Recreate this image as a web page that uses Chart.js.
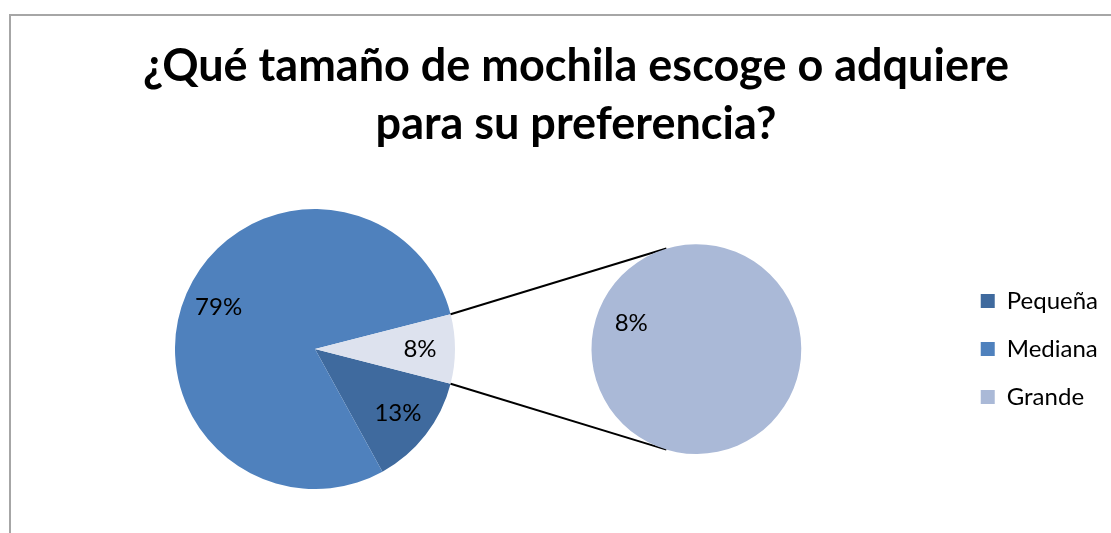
<!DOCTYPE html>
<html>
<head>
<meta charset="utf-8">
<script src="https://cdn.jsdelivr.net/npm/chart.js@4"></script>
<style>
    body { margin: 0; width: 1111px; height: 533px; overflow: hidden; background: #fff; position: relative; }
    #frame { position: absolute; left: 9px; top: 14px; width: 1200px; height: 600px; border: 2px solid #a6a6a6; box-sizing: border-box; }
    #mainPie { position: absolute; left: 175px; top: 209px; z-index: 1; }
    #detailPie { position: absolute; left: 9px; top: 14px; z-index: 2; }
</style>
</head>
<body>
<div id="frame"></div>
<canvas id="mainPie" width="280" height="280"></canvas>
<canvas id="detailPie" width="1134" height="519"></canvas>
<script>
const titleLines = ["¿Qué tamaño de mochila escoge o adquiere", "para su preferencia?"]
const categories = ["Pequeña", "Mediana", "Grande"]
const percentages = [13, 79, 8]
const detailCategories = ["Grande"]
const detailPercentages = [8]

const sliceColors = ["#3F6A9E", "#4F81BD", "#DDE2EE"]
const legendColors = ["#3F6A9E", "#4F81BD", "#AAB9D7"]
const detailColors = ["#AAB9D7"]

const FONT = "Lato, 'Open Sans', sans-serif"

// percentage text inside each slice
const sliceLabels = {
    id: "sliceLabels",
    afterDatasetsDraw(chart, args, opts) {
        const ctx = chart.ctx
        const meta = chart.getDatasetMeta(0)
        const values = chart.data.datasets[0].data
        ctx.save()
        ctx.font = "24px " + FONT
        ctx.fillStyle = "#000"
        ctx.textAlign = "center"
        ctx.textBaseline = "middle"
        meta.data.forEach((arc, i) => {
            const mid = (arc.startAngle + arc.endAngle) / 2
            const r = arc.outerRadius * opts.frac
            ctx.fillText(values[i] + "%", arc.x + Math.cos(mid) * r, arc.y + Math.sin(mid) * r)
        })
        ctx.restore()
    },
}

const grandeIndex = categories.indexOf("Grande")
const total = percentages.reduce((a, b) => a + b, 0)
// the split-off slice sits centred on 3 o'clock
const mainRotation = 90 + (percentages[grandeIndex] / total) * 180

const mainChart = new Chart(document.getElementById("mainPie"), {
    type: "pie",
    data: {
        labels: categories,
        datasets: [
            {
                data: percentages,
                backgroundColor: sliceColors,
                borderWidth: 0,
                hoverOffset: 0,
            },
        ],
    },
    options: {
        responsive: false,
        animation: false,
        events: [],
        rotation: mainRotation,
        layout: { padding: 0 },
        plugins: {
            legend: { display: false },
            title: { display: false },
            tooltip: { enabled: false },
            sliceLabels: { frac: 0.75 },
        },
    },
    plugins: [sliceLabels],
})

// lines from the split-off slice to the second pie
const connectors = {
    id: "connectors",
    beforeDatasetsDraw(chart) {
        const ctx = chart.ctx
        const src = mainChart.getDatasetMeta(0).data[grandeIndex]
        const dst = chart.getDatasetMeta(0).data[0]
        const a = mainChart.canvas.getBoundingClientRect()
        const b = chart.canvas.getBoundingClientRect()
        const ox = a.left - b.left
        const oy = a.top - b.top
        const spread = Math.PI / 2 + 0.29
        const ends = [
            [src.startAngle, -spread],
            [src.endAngle, spread],
        ]
        ctx.save()
        ctx.strokeStyle = "#000"
        ctx.lineWidth = 2
        for (const [from, to] of ends) {
            ctx.beginPath()
            ctx.moveTo(ox + src.x + Math.cos(from) * src.outerRadius, oy + src.y + Math.sin(from) * src.outerRadius)
            ctx.lineTo(dst.x + Math.cos(to) * dst.outerRadius, dst.y + Math.sin(to) * dst.outerRadius)
            ctx.stroke()
        }
        ctx.restore()
    },
}

const detailChart = new Chart(document.getElementById("detailPie"), {
    type: "pie",
    data: {
        labels: detailCategories,
        datasets: [
            {
                data: detailPercentages,
                backgroundColor: detailColors,
                borderWidth: 0,
                hoverOffset: 0,
            },
        ],
    },
    options: {
        responsive: false,
        animation: false,
        events: [],
        rotation: 112,
        layout: { padding: { left: 35, right: 35, top: 0, bottom: 79 } },
        scales: {
            spacer: {
                type: "linear",
                position: "left",
                display: true,
                grid: { display: false },
                border: { display: false },
                ticks: { display: false },
                afterFit: (scale) => {
                    scale.width = 392
                },
            },
        },
        plugins: {
            title: {
                display: true,
                text: titleLines,
                color: "#000",
                font: { family: FONT, size: 45, weight: "bold", lineHeight: 1.28 },
                padding: { top: 24, bottom: 91 },
            },
            legend: {
                display: true,
                position: "right",
                fullSize: false,
                labels: {
                    color: "#000",
                    font: { family: FONT, size: 24 },
                    boxWidth: 14,
                    boxHeight: 14,
                    padding: 24,
                    generateLabels: () =>
                        categories.map((text, i) => ({
                            text,
                            fillStyle: legendColors[i],
                            strokeStyle: legendColors[i],
                            lineWidth: 0,
                            hidden: false,
                            index: i,
                        })),
                },
            },
            tooltip: { enabled: false },
            sliceLabels: { frac: 0.67 },
        },
    },
    plugins: [connectors, sliceLabels],
})
</script>
</body>
</html>
